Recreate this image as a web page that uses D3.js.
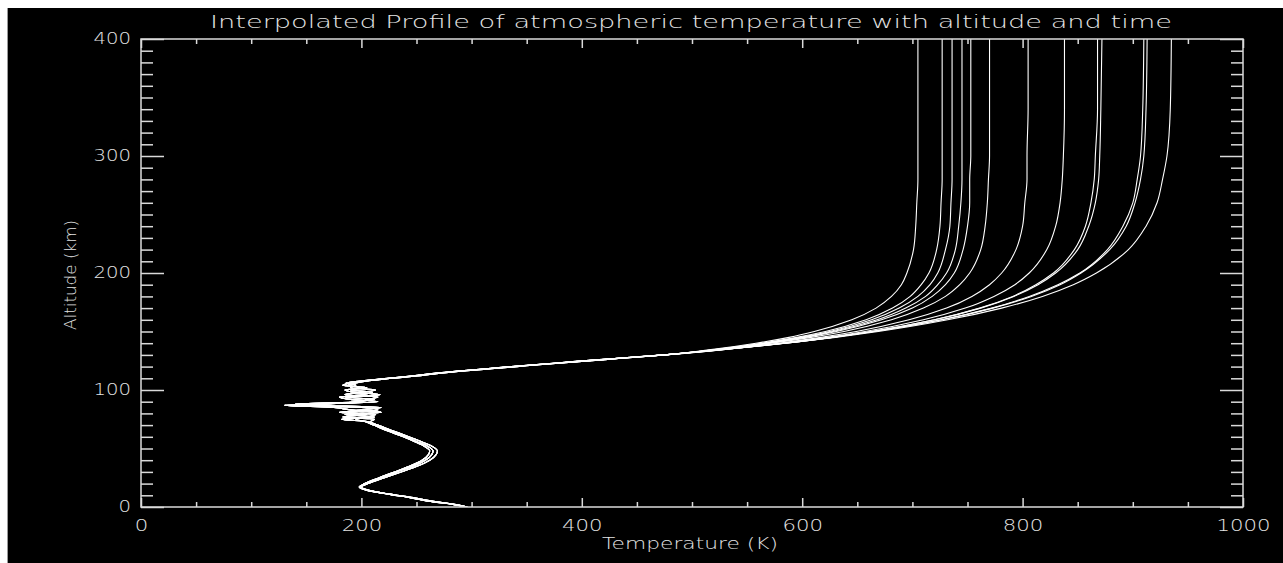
<!DOCTYPE html>
<html lang="en">
<head>
<meta charset="UTF-8">
<title>Interpolated Profile of atmospheric temperature</title>
<script src="https://d3js.org/d3.v7.min.js"></script>
<style>
    body { margin: 0; padding: 0; background: #fff; overflow: hidden; }
    svg { display: block; }
    .lbl { font-family: "DejaVu Sans", sans-serif; font-weight: 200; fill: #e4e4e4; }
    .tick text { font-family: "DejaVu Sans", sans-serif; font-weight: 200; font-size: 15px; fill: #e4e4e4; }
    .profile { fill: none; stroke: #fff; stroke-width: 1.1px; }
</style>
</head>
<body>
<svg id="chart" width="1283" height="563"></svg>
<script>
// altitude grid (km) for troposphere .. lower thermosphere
var lowAlt = [0,2,5,8,11,14,17,20,25,30,35,40,45,48,52,56,60,65,70,
              73,75,77,79,81,83,85,87,88,90,92,94,96,98,100,102,104,106,108,110,
              112,114,116,118,120,122,124,126,128];

// three slightly different lower profiles (K)
var lowA = [296,285,262,245,225,207,199,204,218,232,247,258,264,265,260,250,240,226,213,
            205,182,212,185,218,190,175,130,160,215,190,180,217,195,185,205,183,190,205,226,
            247,266,287,312,338,364,391,418,446];
var lowB = [296,286,264,247,226,208,200,206,221,236,251,262,268,269,264,254,243,229,215,
            208,212,183,205,180,215,200,145,170,195,212,185,200,210,190,198,188,195,207,229,
            250,268,290,315,341,367,394,421,449];
var lowC = [295,284,261,244,224,206,198,203,216,230,244,255,261,262,257,248,238,224,211,
            203,195,205,213,188,200,218,160,140,200,205,215,185,200,213,190,195,186,203,224,
            245,264,285,310,336,362,389,416,444];

// altitude grid (km) for the thermosphere
var upAlt = [130,135,140,145,150,160,170,180,190,200,220,240,260,280,300,340,400];

// thermosphere temperature (K) for each time step
var t01 = [475,521,558,588,611,645,667,681,690,695,701,703,704,705,705,705,705];
var t02 = [475,524,563,595,621,658,682,698,708,715,722,725,726,727,727,727,727];
var t03 = [475,525,566,598,625,663,688,705,716,723,730,734,735,736,736,736,736];
var t04 = [475,526,567,601,628,668,694,712,723,731,739,742,744,745,745,745,745];
var t05 = [475,527,569,603,631,672,700,718,730,738,746,750,752,752,753,753,753];
var t06 = [475,528,572,608,638,681,710,730,743,752,762,766,768,769,770,770,770];
var t07 = [475,531,578,617,649,697,731,754,770,781,794,800,802,804,804,805,805];
var t08 = [475,533,582,623,657,710,748,774,793,806,822,830,834,836,837,838,838];
var t09 = [475,534,584,627,663,720,761,791,812,828,847,857,862,865,866,868,868];
var t10 = [475,534,584,627,663,720,762,792,814,830,850,860,866,869,870,871,872];
var t11 = [475,533,583,627,665,726,772,806,832,852,877,891,900,904,907,909,910];
var t12 = [475,533,584,627,665,727,773,808,834,853,879,894,902,907,910,912,913];
var t13 = [475,534,585,630,669,732,781,818,846,867,896,912,922,927,931,934,935];

var lowSets = [lowA, lowB, lowC];
var upSets = [t01,t02,t03,t04,t05,t06,t07,t08,t09,t10,t11,t12,t13];

var xMajor = [0,200,400,600,800,1000];
var yMajor = [0,100,200,300,400];

var svg = d3.select('#chart');

// black plotting page with the white strip on the top/left
svg.append('rect').attr('x', 8).attr('y', 8).attr('width', 1275).attr('height', 555).attr('fill', '#000');
svg.append('line').attr('x1', 7.5).attr('x2', 7.5).attr('y1', 8).attr('y2', 563).attr('stroke', '#9a9a9a');

var plotL = 141, plotR = 1243, plotT = 39, plotB = 507;
var x = d3.scaleLinear().domain([0, 1000]).range([plotL, plotR]);
var y = d3.scaleLinear().domain([0, 400]).range([plotB, plotT]);

var xMinor = d3.range(0, 1001, 50).filter(function(d) { return d % 200 !== 0; });
var yMinor = d3.range(0, 401, 10).filter(function(d) { return d % 100 !== 0; });

svg.append('defs').append('clipPath').attr('id', 'plot')
    .append('rect').attr('x', plotL).attr('y', plotT).attr('width', plotR - plotL).attr('height', plotB - plotT);

// profiles
var line = d3.line()
    .x(function(d) { return x(d[1]); })
    .y(function(d) { return y(d[0]); })
    .curve(d3.curveMonotoneY);

var profiles = upSets.map(function(up, i) {
    var low = lowSets[i % 3];
    var pts = lowAlt.map(function(a, j) { return [a, low[j]]; });
    return pts.concat(upAlt.map(function(a, j) { return [a, up[j]]; }));
});

svg.append('g').attr('clip-path', 'url(#plot)')
    .selectAll('path').data(profiles).enter().append('path')
    .attr('class', 'profile')
    .attr('d', line);

// axes
function styleAxis(g) {
    g.attr('color', '#dadada').attr('font-family', null).attr('font-size', null);
    g.select('.domain').remove();
    g.selectAll('.tick line').attr('stroke-width', 1.5);
}

svg.append('g').attr('transform', 'translate(0,' + plotB + ')')
    .call(d3.axisBottom(x).tickValues(xMinor).tickSize(-5).tickFormat('')).call(styleAxis);
svg.append('g').attr('transform', 'translate(0,' + plotB + ')')
    .call(d3.axisBottom(x).tickValues(xMajor).tickSize(-9).tickPadding(13).tickFormat(d3.format('d')))
    .call(styleAxis)
    .selectAll('text')
    .attr('textLength', function(d) { return String(d).length * 13.5; })
    .attr('lengthAdjust', 'spacingAndGlyphs');

svg.append('g').attr('transform', 'translate(0,' + plotT + ')')
    .call(d3.axisTop(x).tickValues(xMinor).tickSize(-5).tickFormat('')).call(styleAxis);
svg.append('g').attr('transform', 'translate(0,' + plotT + ')')
    .call(d3.axisTop(x).tickValues(xMajor).tickSize(-9).tickFormat('')).call(styleAxis);

svg.append('g').attr('transform', 'translate(' + plotL + ',0)')
    .call(d3.axisLeft(y).tickValues(yMinor).tickSize(-12).tickFormat('')).call(styleAxis);
svg.append('g').attr('transform', 'translate(' + plotL + ',0)')
    .call(d3.axisLeft(y).tickValues(yMajor).tickSize(-23).tickPadding(10).tickFormat(d3.format('d')))
    .call(styleAxis)
    .selectAll('text')
    .attr('textLength', function(d) { return String(d).length * 12.5; })
    .attr('lengthAdjust', 'spacingAndGlyphs');

svg.append('g').attr('transform', 'translate(' + plotR + ',0)')
    .call(d3.axisRight(y).tickValues(yMinor).tickSize(-12).tickFormat('')).call(styleAxis);
svg.append('g').attr('transform', 'translate(' + plotR + ',0)')
    .call(d3.axisRight(y).tickValues(yMajor).tickSize(-23).tickFormat('')).call(styleAxis);

// frame
svg.append('rect')
    .attr('x', plotL).attr('y', plotT)
    .attr('width', plotR - plotL).attr('height', plotB - plotT)
    .attr('fill', 'none').attr('stroke', '#dadada').attr('stroke-width', 1.5);

// titles
svg.append('text').attr('class', 'lbl')
    .attr('x', 210).attr('y', 28)
    .attr('font-size', 17)
    .attr('textLength', 962).attr('lengthAdjust', 'spacingAndGlyphs')
    .text('Interpolated Profile of atmospheric temperature with altitude and time');

svg.append('text').attr('class', 'lbl')
    .attr('x', 602).attr('y', 549)
    .attr('font-size', 15)
    .attr('textLength', 176).attr('lengthAdjust', 'spacingAndGlyphs')
    .text('Temperature (K)');

svg.append('text').attr('class', 'lbl')
    .attr('transform', 'translate(76,275) rotate(-90)')
    .attr('text-anchor', 'middle')
    .attr('font-size', 15)
    .attr('textLength', 110).attr('lengthAdjust', 'spacingAndGlyphs')
    .text('Altitude (km)');
</script>
</body>
</html>
